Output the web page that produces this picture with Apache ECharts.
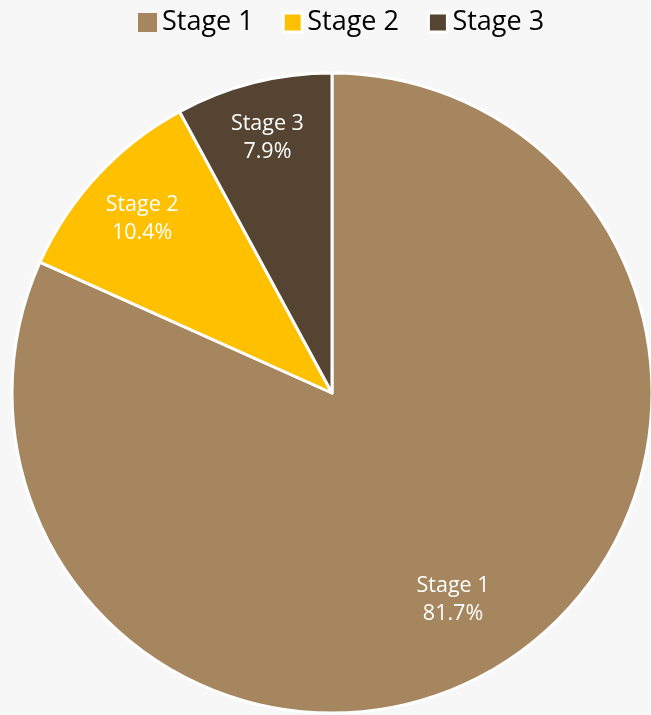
<!DOCTYPE html>
<html>
<head>
<meta charset="utf-8">
<title>Stage distribution</title>
<script src="https://cdn.jsdelivr.net/npm/echarts@6/dist/echarts.min.js"></script>
<style>
  html, body { margin: 0; padding: 0; background: #f7f7f7; }
  #chart { width: 651px; height: 715px; }
</style>
</head>
<body>
<div id="chart"></div>
<script>
// Share of items in each stage (percent)
const stages = ['Stage 1', 'Stage 2', 'Stage 3'];
const shares = [81.7, 10.4, 7.9];
const colors = ['#a5865f', '#ffc000', '#544431'];

const pieData = stages.map((name, i) => ({
  name: name,
  value: shares[i],
  itemStyle: { color: colors[i] }
}));

// Small nudges for each slice label
const labelNudges = [[-22, -14], [3, 5], [0, 0]];

// Transparent ring used only to place the labels further out than the pie's half radius
const labelData = stages.map((name, i) => ({
  name: name,
  value: shares[i],
  label: { offset: labelNudges[i] }
}));

const chart = echarts.init(document.getElementById('chart'), null, { renderer: 'canvas' });

chart.setOption({
  backgroundColor: '#f7f7f7',
  animation: false,
  legend: {
    top: 4,
    left: 133,
    itemWidth: 19,
    itemHeight: 19,
    itemGap: 28,
    icon: 'rect',
    textStyle: { fontFamily: 'Open Sans', fontSize: 27, color: '#000' },
    data: [
      { name: 'Stage 1', itemStyle: { borderWidth: 0 } },
      { name: 'Stage 2', itemStyle: { borderColor: '#ffffff', borderWidth: 3 } },
      { name: 'Stage 3', itemStyle: { borderColor: '#ffffff', borderWidth: 3 } }
    ]
  },
  series: [
    {
      type: 'pie',
      center: [332, 393],
      radius: [0, 320],
      startAngle: 90,
      clockwise: true,
      avoidLabelOverlap: false,
      itemStyle: { borderColor: '#ffffff', borderWidth: 3 },
      label: { show: false },
      labelLine: { show: false },
      emphasis: { disabled: true },
      data: pieData
    },
    {
      type: 'pie',
      center: [332, 393],
      radius: [200, 320],
      startAngle: 90,
      clockwise: true,
      silent: true,
      avoidLabelOverlap: false,
      itemStyle: { color: 'rgba(0,0,0,0)', borderWidth: 0 },
      label: {
        show: true,
        position: 'inside',
        formatter: p => p.name + '\n' + p.value.toFixed(1) + '%',
        color: '#ffffff',
        fontFamily: 'Open Sans',
        fontSize: 21.5,
        lineHeight: 28
      },
      labelLine: { show: false },
      emphasis: { disabled: true },
      data: labelData
    }
  ]
});
</script>
</body>
</html>
